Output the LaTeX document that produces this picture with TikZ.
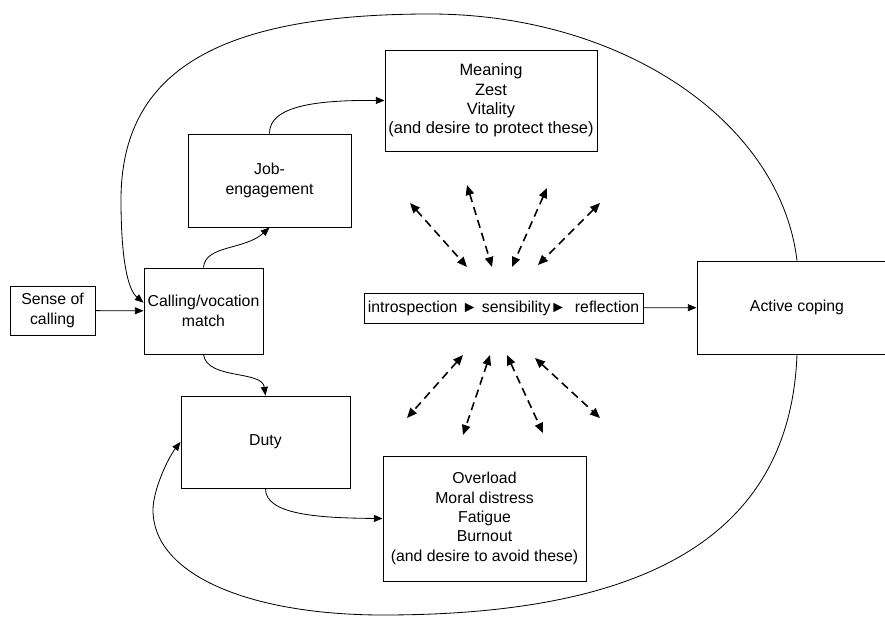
\documentclass[tikz,border=0pt]{standalone}
\usepackage{fontspec}
\setmainfont{Liberation Sans}
\usetikzlibrary{arrows.meta}

\begin{document}
\begin{tikzpicture}[x=0.03cm,y=-0.03cm,
    font=\fontsize{13.5}{16.5}\selectfont,
    >={Triangle[length=2.6mm,width=2.1mm]}]

  \useasboundingbox (0,0) rectangle (885,617);
  \clip (0,0) rectangle (885,617);

  \begin{scope}[every node/.style={draw,line width=0.8pt,align=center,inner sep=1pt}]
    \node[minimum width=2.55cm,minimum height=1.47cm] (sense)    at (52.5,310.5) {Sense of\\calling};
    \node[minimum width=3.57cm,minimum height=2.58cm] (calling)  at (203.5,311)  {Calling/vocation\\match};
    \node[minimum width=4.89cm,minimum height=2.79cm] (job)      at (269.5,180.5) {Job-\\engagement};
    \node[minimum width=6.36cm,minimum height=3.03cm,font=\fontsize{14}{16.5}\selectfont] (meaning) at (491,100.5)
      {Meaning\\Zest\\Vitality\\(and desire to protect these)};
    \node[minimum width=5.07cm,minimum height=2.76cm] (duty)     at (265.5,442)  {Duty};
    \node[minimum width=6.09cm,minimum height=3.75cm] (overload) at (484.5,518.5)
      {Overload\\Moral distress\\Fatigue\\Burnout\\(and desire to avoid these)};
    \node[minimum width=8.37cm,minimum height=0.9cm]  (reflect)  at (503.5,308)
      {introspection ► sensibility► \ reflection};
    \node[minimum width=6cm,minimum height=2.79cm]    (active)   at (797,307.5)  {Active coping};
  \end{scope}

  \begin{scope}[line width=0.7pt]
    \begin{scope}[every edge/.style={draw,->}]
      \path (sense)   edge (calling);
      \path (reflect) edge (active);
    \end{scope}

    \draw[->] (calling.north) .. controls (205,245) and (245,250) .. (job.south);
    \draw[->] (job.north) .. controls (269,105) and (320,100) .. (meaning.west);
    \draw[->] (calling.south) .. controls (207,380) and (262,370) .. (duty.north);
    \draw[->] (duty.south) .. controls (265,515) and (320,518) .. (overload.west);

    % feedback loops from active coping
    \draw[->] (active.north) .. controls (780,120) and (620,14) .. (430,14)
      .. controls (220,14) and (121,70) .. (121,200)
      .. controls (121,260) and (128,290) .. (calling.172);
    \draw[->] (active.south) .. controls (790,540) and (640,615) .. (383,615)
      .. controls (250,615) and (153,575) .. (153,510)
      .. controls (153,490) and (168,458) .. (duty.west);
  \end{scope}

  \begin{scope}[line width=1.35pt,dash pattern=on 7pt off 4.5pt,
      {Triangle[length=3mm,width=2.5mm]}-{Triangle[length=3mm,width=2.5mm]}]
    \foreach \n/\ax/\ay/\bx/\by in {up1/410/203/467/267, up2/467/185/492/267,
        up3/547/188/512/267, up4/600/203/538/265,
        dn1/463/355/407/418, dn2/490/355/463/435,
        dn3/507/355/543/433, dn4/535/358/600/418}{
      \coordinate (\n a) at (\ax,\ay);
      \coordinate (\n b) at (\bx,\by);
      \draw (\n a) -- (\n b);
    }
  \end{scope}

\end{tikzpicture}
\end{document}
